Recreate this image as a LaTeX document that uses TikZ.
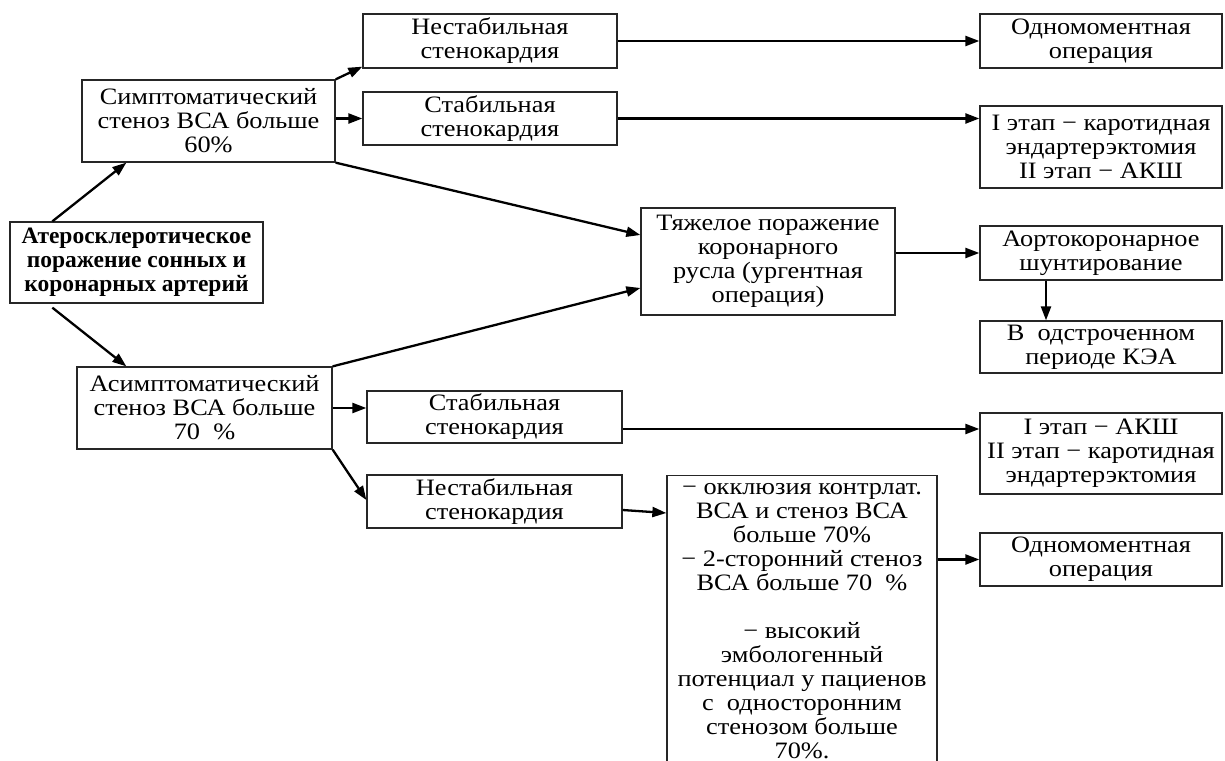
\documentclass[tikz,border=0pt]{standalone}
\usepackage{fontspec}
\setmainfont{Liberation Serif}[FakeStretch=1.12]
\newfontfamily\plainserif{Liberation Serif}
\usetikzlibrary{arrows.meta,calc}
\begin{document}
\begin{tikzpicture}[x=1pt,y=-1pt,
  box/.style={draw=black!85,line width=1.3pt,rectangle,align=center,inner sep=0pt,
    font=\fontsize{23.5}{24}\selectfont},
  arr/.style={line width=2.3pt,-{Triangle[length=14pt,width=10pt]}}]
\useasboundingbox[fill=white] (0,0) rectangle (1225,760);
\node[box,minimum width=253pt,minimum height=81pt,font=\plainserif\bfseries\fontsize{23.5}{24}\selectfont] (main) at (136.5,262.5)
  {Атеросклеротическое\\поражение сонных и\\коронарных артерий};
\node[box,minimum width=253pt,minimum height=82pt] (sym) at (208.5,121)
  {Симптоматический\\стеноз ВСА больше\\60\%};
\node[box,minimum width=255pt,minimum height=82pt] (asym) at (204.5,408)
  {Асимптоматический\\стеноз ВСА больше\\70\ \ \%};
\node[box,minimum width=254pt,minimum height=54pt] (un1) at (490,41)
  {Нестабильная\\стенокардия};
\node[box,minimum width=254pt,minimum height=53pt] (st1) at (490,118.5)
  {Стабильная\\стенокардия};
\node[box,minimum width=242pt,minimum height=54pt] (od1) at (1101,41)
  {Одномоментная\\операция};
\node[box,minimum width=242pt,minimum height=82pt] (et1) at (1101,147)
  {I этап − каротидная\\эндартерэктомия\\II этап − АКШ};
\node[box,minimum width=254pt,minimum height=107pt] (heavy) at (768,261.5)
  {Тяжелое поражение\\коронарного\\русла (ургентная\\операция)};
\node[box,minimum width=242pt,minimum height=54pt] (aorto) at (1101,253)
  {Аортокоронарное\\шунтирование};
\node[box,minimum width=242pt,minimum height=52pt] (vod) at (1101,347)
  {В\ \ одстроченном\\периоде КЭА};
\node[box,minimum width=255pt,minimum height=52pt] (st2) at (494.5,417)
  {Стабильная\\стенокардия};
\node[box,minimum width=242pt,minimum height=81pt] (et2) at (1101,453.5)
  {I этап − АКШ\\II этап − каротидная\\эндартерэктомия};
\node[box,minimum width=255pt,minimum height=53pt] (un2) at (494.5,501.5)
  {Нестабильная\\стенокардия};
\node[box,minimum width=270pt,anchor=north,text height=19pt,text depth=282pt] (list) at (802,475)
  {\begin{tabular}[t]{@{}c@{}}− окклюзия контрлат.\\ВСА и стеноз ВСА\\больше 70\%\\− 2-сторонний стеноз\\ВСА больше 70\ \ \%\\[24pt]− высокий\\эмбологенный\\потенциал у пациенов\\с\ \ односторонним\\стенозом больше\\70\%.\end{tabular}};
\node[box,minimum width=242pt,minimum height=53pt] (od2) at (1101,559.5)
  {Одномоментная\\операция};
% connectors
\draw[arr] ([xshift=43pt]main.north west) -- ([xshift=45pt]sym.south west);
\draw[arr] ([xshift=43pt,yshift=-4pt]main.south west) -- ([xshift=50pt]asym.north west);
\draw[arr] (sym.north east) -- ([yshift=2pt]un1.south west);
\draw[arr] (sym.east |- st1.west) -- (st1.west);
\draw[arr] (sym.south east) -- ([yshift=26.5pt]heavy.west);
\draw[arr] (asym.north east) -- ([yshift=-26.5pt]heavy.west);
\draw[arr] (asym.east) -- (asym.east -| st2.west);
\draw[arr] (asym.south east) -- ([yshift=1.5pt]un2.west);
\draw[arr] (un1.east) -- (od1.west);
\draw[arr] (st1.east) -- (st1.east -| et1.west);
\draw[arr] (heavy.east |- aorto.west) -- (aorto.west);
\draw[arr] ([xshift=-55pt]aorto.south) -- ([xshift=-55pt]vod.north);
\draw[arr] ([yshift=-12pt]st2.east) -- ([yshift=-12pt]st2.east -| et2.west);
\draw[arr] ([yshift=-8.5pt]un2.east) -- ([yshift=-38pt]list.north west);
\draw[arr] (od2.west -| list.east) -- (od2.west);
\end{tikzpicture}
\end{document}
